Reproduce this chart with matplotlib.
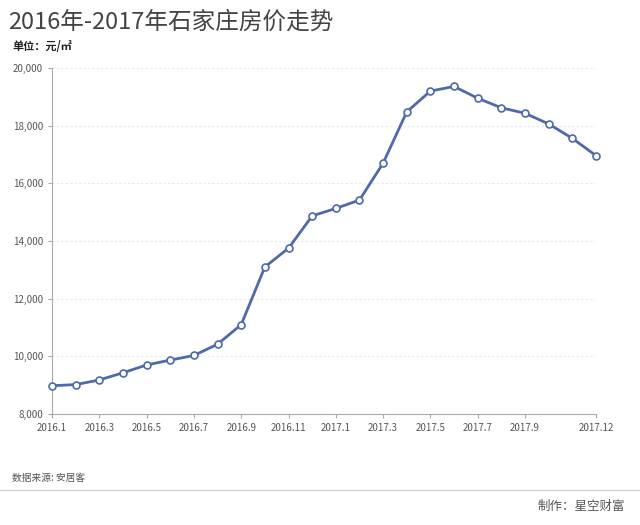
import matplotlib
matplotlib.use("Agg")
import matplotlib.pyplot as plt
plt.rcParams['font.family'] = ['Noto Sans CJK SC', 'DejaVu Sans']

months = [f"2016.{i}" for i in range(1, 13)] + [f"2017.{i}" for i in range(1, 13)]
prices = [8980, 9020, 9180, 9430, 9700, 9870, 10030, 10420, 11100, 13100, 13750, 14870,
          15130, 15420, 16700, 18480, 19200, 19360, 18950, 18620, 18430, 18060, 17560, 16960]
tick_labels = ["2016.1", "2016.3", "2016.5", "2016.7", "2016.9", "2016.11",
               "2017.1", "2017.3", "2017.5", "2017.7", "2017.9", "2017.12"]

fig = plt.figure(figsize=(6.4, 5.25), dpi=100)
ax = fig.add_axes([52/640, 1-414/525, (596-52)/640, (414-68)/525])
x = list(range(len(months)))
ax.plot(x, prices, color='#4e6aaa', lw=2, marker='o', ms=5, mfc='white', mec='#4e6aaa', mew=1.2, clip_on=False, zorder=3)
ax.set_xlim(0, len(months)-1)
ax.set_ylim(8000, 20000)
ax.set_yticks(range(8000, 20001, 2000))
ax.set_yticklabels([f"{v:,}" for v in range(8000, 20001, 2000)], fontsize=7, color='#555555')
ax.set_xticks([months.index(t) for t in tick_labels])
ax.set_xticklabels(tick_labels, fontsize=7, color='#555555')
ax.grid(axis='y', color='#e8e8e8', lw=0.8, ls=(0, (2, 2)))
for s in ['top', 'right']:
    ax.spines[s].set_visible(False)
for s in ['left', 'bottom']:
    ax.spines[s].set_color('#aaaaaa')
ax.tick_params(length=3, color='#aaaaaa')

fig.text(8/640, 1-22/525, "2016年-2017年石家庄房价走势", fontsize=17, color='#444444', va='center')
fig.text(12/640, 1-47/525, "单位：元/㎡", fontsize=8, fontweight='bold', color='#222222', va='center')
fig.text(12/640, 1-478/525, "数据来源: 安居客", fontsize=7, color='#555555', va='center')
fig.add_artist(plt.Line2D([0, 1], [1-490/525]*2, color='#cccccc', lw=0.8))
fig.text(625/640, 1-506/525, "制作：星空财富", fontsize=9, color='#555555', va='center', ha='right')
fig.savefig("out.png", dpi=100, facecolor='white')
